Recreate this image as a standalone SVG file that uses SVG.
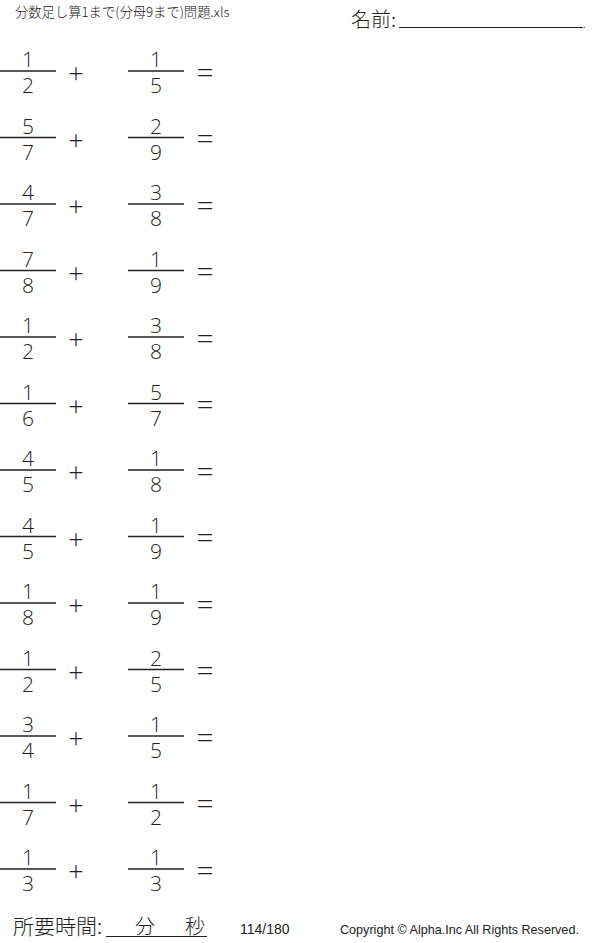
<svg xmlns="http://www.w3.org/2000/svg" width="600" height="943" viewBox="0 0 600 943">
<style>
text{font-family:"Liberation Sans","Noto Sans CJK JP",sans-serif;fill:#222}
.n{font-family:"Open Sans","Liberation Sans",sans-serif;font-weight:300;font-size:21px;text-anchor:middle}
.pl{font-family:"Open Sans","Liberation Sans",sans-serif;font-weight:300;font-size:27px;text-anchor:middle}
.eq{font-family:"Open Sans","Liberation Sans",sans-serif;font-weight:300;font-size:30px;text-anchor:middle}
.bar{stroke:#222;stroke-width:1.4}
.jp{font-family:"Noto Sans CJK JP",sans-serif;font-weight:300}
</style>
<rect width="600" height="943" fill="#fff"/>
<g id="header">
<text x="15" y="17" font-size="13.3" class="jp">分数足し算1まで(分母9まで)問題.xls</text>
<text x="351" y="27" font-size="20" class="jp">名前:</text>
<line x1="399" y1="27.5" x2="583" y2="27.5" stroke="#222" stroke-width="1"/>
<text x="583" y="28" font-size="10">.</text>
</g>
<defs>
<g id="row">
<line class="bar" x1="0" y1="0" x2="56" y2="0"/>
<line class="bar" x1="128" y1="0" x2="184" y2="0"/>
<text class="pl" x="76" y="12">+</text>
<text class="eq" x="205" y="11.5">=</text>
</g>
</defs>
<g id="problems">
<g id="r1" transform="translate(0,71)"><use href="#row"/><text class="n" x="28" y="-4">1</text><text class="n" x="28" y="22">2</text><text class="n" x="156" y="-4">1</text><text class="n" x="156" y="22">5</text></g>
<g id="r2" transform="translate(0,137.5)"><use href="#row"/><text class="n" x="28" y="-4">5</text><text class="n" x="28" y="22">7</text><text class="n" x="156" y="-4">2</text><text class="n" x="156" y="22">9</text></g>
<g id="r3" transform="translate(0,204)"><use href="#row"/><text class="n" x="28" y="-4">4</text><text class="n" x="28" y="22">7</text><text class="n" x="156" y="-4">3</text><text class="n" x="156" y="22">8</text></g>
<g id="r4" transform="translate(0,270.5)"><use href="#row"/><text class="n" x="28" y="-4">7</text><text class="n" x="28" y="22">8</text><text class="n" x="156" y="-4">1</text><text class="n" x="156" y="22">9</text></g>
<g id="r5" transform="translate(0,337)"><use href="#row"/><text class="n" x="28" y="-4">1</text><text class="n" x="28" y="22">2</text><text class="n" x="156" y="-4">3</text><text class="n" x="156" y="22">8</text></g>
<g id="r6" transform="translate(0,403.5)"><use href="#row"/><text class="n" x="28" y="-4">1</text><text class="n" x="28" y="22">6</text><text class="n" x="156" y="-4">5</text><text class="n" x="156" y="22">7</text></g>
<g id="r7" transform="translate(0,470)"><use href="#row"/><text class="n" x="28" y="-4">4</text><text class="n" x="28" y="22">5</text><text class="n" x="156" y="-4">1</text><text class="n" x="156" y="22">8</text></g>
<g id="r8" transform="translate(0,536.5)"><use href="#row"/><text class="n" x="28" y="-4">4</text><text class="n" x="28" y="22">5</text><text class="n" x="156" y="-4">1</text><text class="n" x="156" y="22">9</text></g>
<g id="r9" transform="translate(0,603)"><use href="#row"/><text class="n" x="28" y="-4">1</text><text class="n" x="28" y="22">8</text><text class="n" x="156" y="-4">1</text><text class="n" x="156" y="22">9</text></g>
<g id="r10" transform="translate(0,669.5)"><use href="#row"/><text class="n" x="28" y="-4">1</text><text class="n" x="28" y="22">2</text><text class="n" x="156" y="-4">2</text><text class="n" x="156" y="22">5</text></g>
<g id="r11" transform="translate(0,736)"><use href="#row"/><text class="n" x="28" y="-4">3</text><text class="n" x="28" y="22">4</text><text class="n" x="156" y="-4">1</text><text class="n" x="156" y="22">5</text></g>
<g id="r12" transform="translate(0,802.5)"><use href="#row"/><text class="n" x="28" y="-4">1</text><text class="n" x="28" y="22">7</text><text class="n" x="156" y="-4">1</text><text class="n" x="156" y="22">2</text></g>
<g id="r13" transform="translate(0,869)"><use href="#row"/><text class="n" x="28" y="-4">1</text><text class="n" x="28" y="22">3</text><text class="n" x="156" y="-4">1</text><text class="n" x="156" y="22">3</text></g>
</g>
<g id="footer">
<text x="13" y="934" font-size="21" class="jp">所要時間:</text>
<line x1="106" y1="936.5" x2="207" y2="936.5" stroke="#222" stroke-width="1"/>
<text x="135" y="934" font-size="20" class="jp">分</text>
<text x="185" y="934" font-size="20" class="jp">秒</text>
<text x="240" y="934" font-size="14">114/180</text>
<text x="340" y="934" font-size="12.6">Copyright ©  Alpha.Inc All Rights Reserved.</text>
</g>
</svg>
